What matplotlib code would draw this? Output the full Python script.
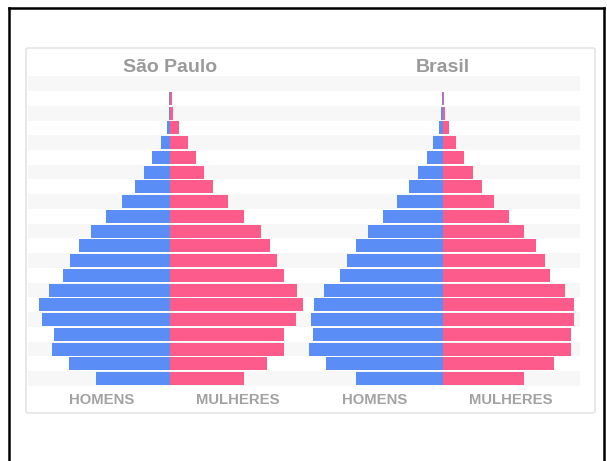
import matplotlib
matplotlib.use("Agg")
import matplotlib.pyplot as plt
from matplotlib.patches import FancyBboxPatch
from matplotlib.lines import Line2D

# Age groups, youngest at the bottom
age_groups = ["0-4", "5-9", "10-14", "15-19", "20-24", "25-29", "30-34", "35-39",
              "40-44", "45-49", "50-54", "55-59", "60-64", "65-69", "70-74",
              "75-79", "80-84", "85-89", "90-94", "95+"]

# Share of the population (%) by sex
sp_homens = [2.47, 3.37, 3.93, 3.87, 4.27, 4.37, 4.03, 3.57, 3.33, 3.03,
             2.63, 2.13, 1.60, 1.17, 0.87, 0.60, 0.30, 0.10, 0.04, 0.02]
sp_mulheres = [2.47, 3.23, 3.80, 3.80, 4.20, 4.43, 4.23, 3.80, 3.57, 3.33,
               3.03, 2.47, 1.93, 1.43, 1.13, 0.87, 0.60, 0.30, 0.10, 0.07]
br_homens = [2.87, 3.88, 4.45, 4.33, 4.37, 4.27, 3.95, 3.43, 3.17, 2.90,
             2.47, 1.97, 1.53, 1.12, 0.82, 0.53, 0.33, 0.12, 0.04, 0.02]
br_mulheres = [2.73, 3.72, 4.27, 4.27, 4.38, 4.38, 4.08, 3.58, 3.40, 3.10,
               2.70, 2.22, 1.73, 1.33, 1.03, 0.73, 0.45, 0.23, 0.07, 0.05]

titles = ["São Paulo", "Brasil"]
sex_labels = ["HOMENS", "MULHERES"]

BLUE = "#5B8DF6"
PINK = "#FD5B8B"
STRIPE = "#f7f7f7"
TITLE_GRAY = "#9a9a9a"
LABEL_GRAY = "#a2a2a2"

W, H = 607, 461
fig = plt.figure(figsize=(W / 100, H / 100), dpi=100)
fig.patch.set_facecolor("white")
plt.rcParams["font.family"] = ["Liberation Sans", "DejaVu Sans"]


def fx(px):
    return px / W


def fy(py):
    return 1 - py / H


# outer frame
for xs, ys in [([8.5, 8.5], [H, 8.5]), ([8.5, 604], [8.5, 8.5]), ([604, 604], [8.5, H])]:
    fig.add_artist(Line2D([fx(x) for x in xs], [fy(y) for y in ys],
                          transform=fig.transFigure, color="black", lw=1.8,
                          solid_capstyle="projecting"))

# card panel, kept behind the axes
panel = FancyBboxPatch((fx(26), fy(413)), fx(595) - fx(26), fy(48) - fy(413),
                       boxstyle="round,pad=0,rounding_size=0.004",
                       transform=fig.transFigure, facecolor="white",
                       edgecolor="#e4e4e4", linewidth=1.2, zorder=-10)
fig.add_artist(panel)

n_rows = len(age_groups) + 1
row_top_px, row_bottom_px = 76.3, 385.9
bottom = fy(row_bottom_px)
height = fy(row_top_px) - bottom

# alternating row stripes behind both pyramids
ax_bg = fig.add_axes([fx(28), bottom, fx(580) - fx(28), height])
ax_bg.patch.set_alpha(0)
for k in range(0, n_rows, 2):
    ax_bg.axhspan(k - 0.5, k + 0.5, color=STRIPE, lw=0)
ax_bg.set_ylim(-0.5, n_rows - 0.5)
ax_bg.set_xlim(0, 1)
ax_bg.axis("off")

centers_px = [170, 442.5]
half_w_px = 138
px_per_unit = 30.0
lim = half_w_px / px_per_unit
y = list(range(len(age_groups)))

for cx, title, men, women in zip(centers_px, titles,
                                 [sp_homens, br_homens], [sp_mulheres, br_mulheres]):
    ax = fig.add_axes([fx(cx - half_w_px), bottom, fx(2 * half_w_px), height])
    ax.patch.set_alpha(0)
    ax.barh(y, [-v for v in men], height=0.88, color=BLUE, lw=0)
    ax.barh(y, women, height=0.88, color=PINK, lw=0)
    ax.set_xlim(-lim, lim)
    ax.set_ylim(-0.5, n_rows - 0.5)
    ax.axis("off")

    fig.text(fx(cx), fy(71.7), title, ha="center", va="baseline",
             fontsize=14, fontweight="bold", color=TITLE_GRAY)
    for dx, lab in zip([-68, 68], sex_labels):
        fig.text(fx(cx + dx), fy(404), lab, ha="center", va="baseline",
                 fontsize=10.7, fontweight="bold", color=LABEL_GRAY)

fig.savefig("out.png", dpi=100, facecolor="white")
